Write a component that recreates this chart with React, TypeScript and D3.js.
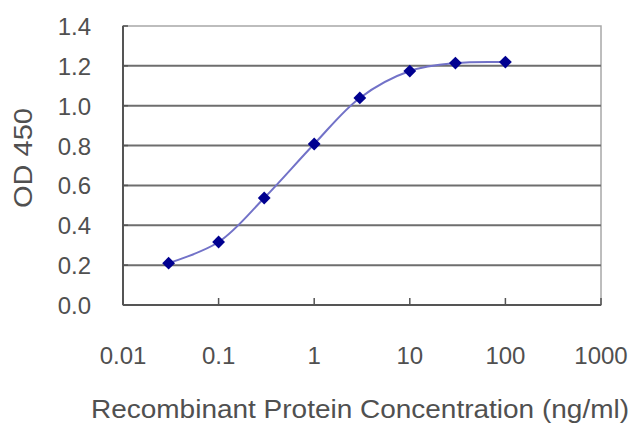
import { useRef, useEffect } from 'react'
import * as d3 from 'd3'

const concentrations = [0.03, 0.1, 0.3, 1, 3, 10, 30, 100]
const odValues = [0.21, 0.316, 0.537, 0.808, 1.039, 1.174, 1.214, 1.219]
const xTicks = [0.01, 0.1, 1, 10, 100, 1000]
const xTickLabels = ['0.01', '0.1', '1', '10', '100', '1000']
const yTicks = [0, 0.2, 0.4, 0.6, 0.8, 1.0, 1.2, 1.4]

const FONT = 'Liberation Sans, Arial, sans-serif'
const TEXT = '#505050'

export default function App() {
  const svgRef = useRef<SVGSVGElement>(null)

  useEffect(() => {
    if (!svgRef.current) return
    const svg = d3.select(svgRef.current)
    svg.selectAll('*').remove()

    const width = 640
    const height = 427
    const margin = { top: 26, right: 39, bottom: 122, left: 123 }

    const x = d3.scaleLog().domain([0.01, 1000]).range([margin.left, width - margin.right])
    const y = d3.scaleLinear().domain([0, 1.4]).range([height - margin.bottom, margin.top])

    svg.append('rect')
      .attr('width', width).attr('height', height).attr('fill', '#fff')

    // plot border (light)
    svg.append('rect')
      .attr('x', x(0.01)).attr('y', y(1.4))
      .attr('width', x(1000) - x(0.01)).attr('height', y(0) - y(1.4))
      .attr('fill', 'none').attr('stroke', '#a8a8a8').attr('stroke-width', 1.5)

    // gridlines
    svg.selectAll('.grid')
      .data(yTicks.filter(t => t > 0 && t < 1.4))
      .join('line')
      .attr('class', 'grid')
      .attr('x1', x(0.01)).attr('x2', x(1000))
      .attr('y1', d => y(d)).attr('y2', d => y(d))
      .attr('stroke', '#6e6e6e').attr('stroke-width', 2)

    // left and bottom axes
    svg.append('line')
      .attr('x1', x(0.01)).attr('x2', x(0.01))
      .attr('y1', y(0)).attr('y2', y(1.4))
      .attr('stroke', '#555').attr('stroke-width', 2)
    svg.append('line')
      .attr('x1', x(0.01)).attr('x2', x(1000))
      .attr('y1', y(0)).attr('y2', y(0))
      .attr('stroke', '#555').attr('stroke-width', 2)

    // small tick marks on the left axis
    svg.selectAll('.ytick')
      .data(yTicks)
      .join('line')
      .attr('class', 'ytick')
      .attr('x1', x(0.01)).attr('x2', x(0.01) + 5)
      .attr('y1', d => y(d)).attr('y2', d => y(d))
      .attr('stroke', '#555').attr('stroke-width', 1.5)

    // x tick marks (pointing up into the plot)
    svg.selectAll('.xtick')
      .data(xTicks)
      .join('line')
      .attr('class', 'xtick')
      .attr('x1', d => x(d)).attr('x2', d => x(d))
      .attr('y1', y(0)).attr('y2', y(0) - 7)
      .attr('stroke', '#555').attr('stroke-width', 1.5)

    // y tick labels
    svg.selectAll('.ylabel')
      .data(yTicks)
      .join('text')
      .attr('class', 'ylabel')
      .attr('x', 91).attr('y', d => y(d) + 9)
      .attr('text-anchor', 'end')
      .style('font-family', FONT).style('font-size', '24px').style('fill', TEXT)
      .text(d => d.toFixed(1))

    // x tick labels
    svg.selectAll('.xlabel')
      .data(xTicks)
      .join('text')
      .attr('class', 'xlabel')
      .attr('x', d => x(d)).attr('y', 364)
      .attr('text-anchor', 'middle')
      .style('font-family', FONT).style('font-size', '24px').style('fill', TEXT)
      .text((_, i) => xTickLabels[i])

    // axis titles
    svg.append('text')
      .attr('x', 360).attr('y', 418)
      .attr('text-anchor', 'middle')
      .attr('textLength', 538).attr('lengthAdjust', 'spacingAndGlyphs')
      .style('font-family', FONT).style('font-size', '25px').style('fill', TEXT)
      .text('Recombinant Protein Concentration (ng/ml)')

    svg.append('text')
      .attr('transform', 'translate(32,158) rotate(-90)')
      .attr('text-anchor', 'middle')
      .attr('textLength', 100).attr('lengthAdjust', 'spacingAndGlyphs')
      .style('font-family', FONT).style('font-size', '26px').style('fill', TEXT)
      .text('OD 450')

    const pts: [number, number][] = concentrations.map((c, i) => [x(c), y(odValues[i])])

    svg.append('path')
      .attr('d', d3.line().curve(d3.curveCatmullRom.alpha(0.5))(pts))
      .attr('fill', 'none')
      .attr('stroke', '#7272c8')
      .attr('stroke-width', 2)

    svg.selectAll('.pt')
      .data(pts)
      .join('path')
      .attr('class', 'pt')
      .attr('transform', d => `translate(${d[0]},${d[1]}) rotate(45)`)
      .attr('d', d3.symbol(d3.symbolSquare, 82)())
      .attr('fill', '#000090')
  }, [])

  return (
    <svg
      ref={svgRef}
      width={640}
      height={427}
      style={{ position: 'absolute', left: 0, top: 0, display: 'block' }}
    />
  )
}
